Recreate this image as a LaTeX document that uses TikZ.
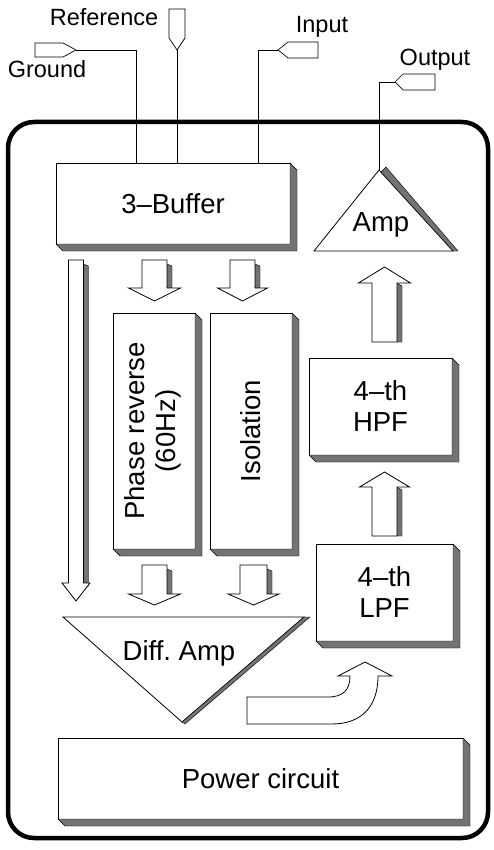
\documentclass[tikz,border=0pt]{standalone}
\usepackage{fontspec}
\setmainfont{Liberation Sans}
\usetikzlibrary{calc}

% block arrows: cx, top/bottom, head base, tip, half shaft, half head
\newcommand{\dnblk}[6]{%
  \fill[shad] (#1+#5,#2+4) -- (#1+#5+5,#2+6) -- (#1+#5+5,#3+3) -- (#1+#5,#3) -- cycle;
  \draw[blk] (#1-#5,#2) -- (#1+#5,#2) -- (#1+#5,#3) -- (#1+#6,#3) -- (#1,#4) -- (#1-#6,#3) -- (#1-#5,#3) -- cycle;
}
\newcommand{\upblk}[6]{%
  \fill[shad] (#1+#5,#3) -- (#1+#5+5,#3+3) -- (#1+#5+5,#2) -- (#1+#5,#2) -- cycle;
  \draw[blk] (#1-#5,#2) -- (#1+#5,#2) -- (#1+#5,#3) -- (#1+#6,#3) -- (#1,#4) -- (#1-#6,#3) -- (#1-#5,#3) -- cycle;
}

\begin{document}
\begin{tikzpicture}[x=1pt,y=-1pt,
  box/.style={draw, line width=0.8pt, fill=white, inner sep=0pt, outer sep=0pt, align=center, font=\fontsize{27.5}{31}\selectfont},
  lbl/.style={inner sep=0pt, anchor=base, font=\fontsize{27.5}{31}\selectfont},
  pinlbl/.style={inner sep=0pt, anchor=base, font=\fontsize{23.5}{28}\selectfont},
  pin/.style={draw, line width=0.7pt, fill=white},
  wire/.style={line width=0.7pt},
  blk/.style={draw, line width=0.8pt, fill=white, line join=miter},
  shad/.style={draw=black, line width=0.4pt, fill=black!55},
  frame/.style={line width=4.5pt, rounded corners=26pt}
]
\useasboundingbox (0,0) rectangle (493,850);
\draw[frame] (8,122) rectangle (488,838);

% blocks
\node[box, minimum width=234pt, minimum height=81pt] (buf) at (173,203.5) {3--Buffer};
\node[box, minimum width=82pt, minimum height=236pt] (phase) at (154,431)
  {\rotatebox{90}{\begin{tabular}{@{}c@{}}Phase reverse\\(60Hz)\end{tabular}}};
\node[box, minimum width=82pt, minimum height=236pt] (iso) at (251,431) {\rotatebox{90}{Isolation}};
\node[box, minimum width=143pt, minimum height=97pt] (hpf) at (380.5,406.5) {4--th\\HPF};
\node[box, minimum width=137pt, minimum height=97pt] (lpf) at (384.5,592.5) {4--th\\LPF};
\node[box, minimum width=405pt, minimum height=81pt] (pwr) at (260.5,778.5) {Power circuit};

\foreach \n in {buf,phase,iso,hpf,lpf,pwr}
  \fill[shad] (\n.north east) -- ++(7,7) -- ($(\n.south east)+(7,7)$) -- ($(\n.south west)+(7,7)$) -- (\n.south west) -- (\n.south east) -- cycle;

% amplifiers
\coordinate (ampT) at (379,170);
\coordinate (ampL) at (314,251);
\coordinate (ampR) at (453,251);
\draw[blk] (ampT) -- (ampR) -- (ampL) -- cycle;
\fill[shad] (381,172) -- (386,167) -- (458,251) -- (453,251) -- cycle;
\node[lbl] (amp) at (381,232) {Amp};

\coordinate (diffL) at (63,617);
\coordinate (diffR) at (304,617);
\coordinate (diffB) at (182,722);
\draw[blk] (diffL) -- (diffR) -- (diffB) -- cycle;
\fill[shad] (diffR) -- (310,617) -- (185,724) -- (diffB) -- cycle;
\node[lbl] (diff) at (179,660) {Diff.\ Amp};

% flow arrows
\dnblk{76}{260}{583}{601}{7.5}{14}
\dnblk{154.5}{260}{288}{301}{12.5}{26}
\dnblk{242.5}{260}{288}{301}{12.5}{25}
\dnblk{154.5}{565}{594}{605}{12.5}{26}
\dnblk{253.5}{565}{594}{605}{13.5}{25.5}
\upblk{384.5}{342}{283}{267}{12.5}{26}
\upblk{384.5}{536}{487}{472}{12.5}{25}
\draw[blk] (247,697) -- (328,697) .. controls (343,697) and (350,690) .. (350,676)
  -- (338,676) -- (365,662) -- (392,676) -- (378,676)
  .. controls (378,708) and (360,724) .. (332,724) -- (247,724) -- cycle;

% terminals
\coordinate (gndT) at (76,50);
\coordinate (refT) at (177,50);
\coordinate (inT) at (278,50);
\coordinate (outT) at (395,82);
\draw[pin] (gndT) -- ++(-13,-7) -- ++(-28,0) -- ++(0,14) -- ++(28,0) -- cycle;
\draw[pin] (refT) -- ++(-8,-12) -- ++(0,-29) -- ++(16,0) -- ++(0,29) -- cycle;
\draw[pin] (inT) -- ++(10,-8) -- ++(30,0) -- ++(0,16) -- ++(-30,0) -- cycle;
\draw[pin] (outT) -- ++(8,-8) -- ++(32,0) -- ++(0,16) -- ++(-32,0) -- cycle;

\draw[wire] (gndT) -| ([xshift=80pt]buf.north west);
\draw[wire] (refT) -- (refT |- buf.north);
\draw[wire] (inT) -| ([xshift=202pt]buf.north west);
\draw[wire] (outT) -| (ampT);

\node[pinlbl] (gndL) at (47,78) {Ground};
\node[pinlbl] (refL) at (104,26) {Reference};
\node[pinlbl] (inL) at (322,33) {Input};
\node[pinlbl] (outL) at (435,66) {Output};
\end{tikzpicture}
\end{document}
